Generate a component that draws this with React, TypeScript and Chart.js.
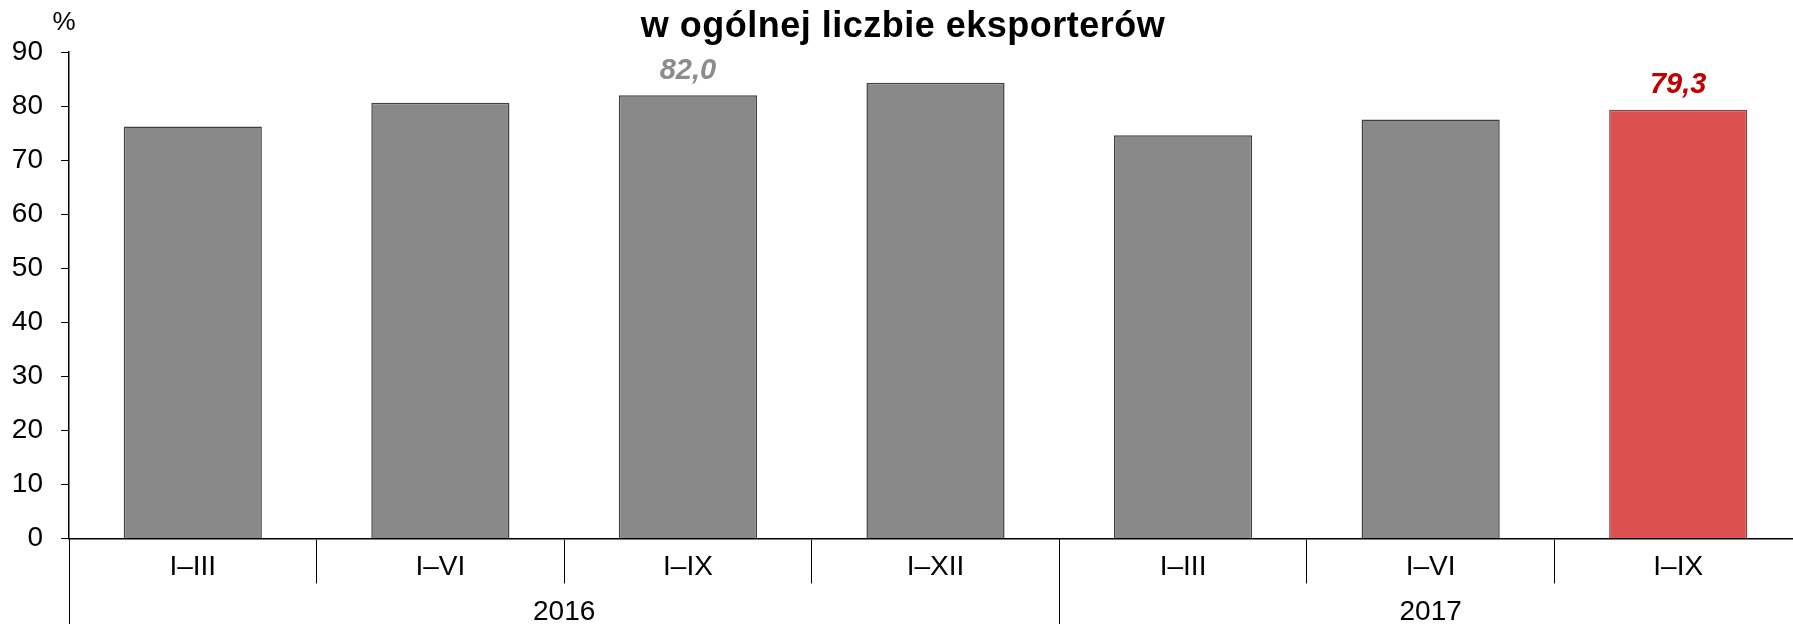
import React, { useEffect, useRef } from "react";
import { Chart, registerables } from "chart.js";

Chart.register(...registerables);

const categories = ["I–III", "I–VI", "I–IX", "I–XII", "I–III", "I–VI", "I–IX"];
const values = [76.2, 80.6, 82.0, 84.3, 74.6, 77.5, 79.3];
const years = ["2016", "2017"];
const yearSpans = [4, 3];
const labelledIndices = [2, 6];
const titleText = "w ogólnej liczbie eksporterów";
const unitLabel = "%";
const yMin = 0;
const yMax = 90;
const yStep = 10;

const FONT = '"Liberation Sans", Arial, sans-serif';
const GRAY = "#898989";
const GRAY_BORDER = "#404040";
const RED = "#dc5050";
const RED_BORDER = "#8a4545";
const CANVAS_W = 1802;
const CANVAS_H = 624;

const overlayPlugin = {
  id: "overlay",
  afterDraw(chart: any) {
    const ctx = chart.ctx;
    const x = chart.scales.x;
    const area = chart.chartArea;
    const n = categories.length;
    const cw = (x.right - x.left) / n;
    ctx.save();

    // title (second line visible)
    ctx.fillStyle = "#000";
    ctx.font = `bold 36px ${FONT}`;
    try { (ctx as any).letterSpacing = "0.5px"; } catch (e) {}
    ctx.textAlign = "center";
    ctx.textBaseline = "alphabetic";
    ctx.fillText(titleText, 903, 37);
    try { (ctx as any).letterSpacing = "0px"; } catch (e) {}

    // unit
    ctx.font = `26px ${FONT}`;
    ctx.textAlign = "center";
    ctx.fillText(unitLabel, 64, 29.5);

    // year groups
    ctx.font = `28px ${FONT}`;
    ctx.strokeStyle = "#000";
    ctx.lineWidth = 1;
    let start = 0;
    yearSpans.forEach((span, gi) => {
      const left = x.getPixelForValue(start) - cw / 2;
      const right = x.getPixelForValue(start + span - 1) + cw / 2;
      const lx = Math.round(left) + 0.5;
      ctx.beginPath();
      ctx.moveTo(lx, area.bottom);
      ctx.lineTo(lx, CANVAS_H);
      ctx.stroke();
      ctx.textAlign = "center";
      ctx.textBaseline = "alphabetic";
      ctx.fillText(years[gi], (left + right) / 2, 620);
      start += span;
    });

    // value labels
    const meta = chart.getDatasetMeta(0);
    ctx.font = `italic bold 29px ${FONT}`;
    ctx.textAlign = "center";
    ctx.textBaseline = "alphabetic";
    labelledIndices.forEach((i) => {
      const bar = meta.data[i];
      const isLast = i >= yearSpans[0];
      ctx.fillStyle = isLast ? "#c00000" : "#8c8c8c";
      ctx.fillText(values[i].toFixed(1).replace(".", ","), bar.x, bar.y - 16.5);
    });
    ctx.restore();
  },
};

export default function App() {
  const ref = useRef<HTMLCanvasElement | null>(null);
  useEffect(() => {
    if (!ref.current) return;
    const chart = new Chart(ref.current, {
      type: "bar",
      data: {
        labels: categories,
        datasets: [
          {
            data: values,
            backgroundColor: values.map((_, i) => (i === values.length - 1 ? RED : GRAY)),
            borderColor: values.map((_, i) => (i === values.length - 1 ? RED_BORDER : GRAY_BORDER)),
            borderWidth: 1.5,
            barPercentage: 0.558,
            categoryPercentage: 1,
          },
        ],
      },
      options: {
        responsive: false,
        animation: false,
        devicePixelRatio: 1,
        layout: { padding: { top: 52, left: 0, right: 0, bottom: 0 } },
        plugins: {
          legend: { display: false },
          title: { display: false },
          tooltip: { enabled: false },
        },
        scales: {
          x: {
            offset: true,
            grid: {
              offset: true,
              drawOnChartArea: false,
              drawTicks: true,
              tickLength: 45,
              color: "#000",
              lineWidth: 1,
            },
            border: { display: true, color: "#000", width: 1.5 },
            ticks: {
              color: "#000",
              font: { family: FONT, size: 28 },
              padding: -33,
              maxRotation: 0,
              autoSkip: false,
            },
            afterFit(scale: any) {
              scale.height = 85.5;
            },
          },
          y: {
            min: yMin,
            max: yMax,
            ticks: {
              stepSize: yStep,
              color: "#000",
              font: { family: FONT, size: 28 },
              padding: 18,
            },
            grid: {
              drawOnChartArea: false,
              drawTicks: true,
              tickLength: 8,
              color: "#000",
              lineWidth: 1,
            },
            border: { display: true, color: "#000", width: 1.5 },
            afterFit(scale: any) {
              scale.width = 69;
            },
          },
        },
      },
      plugins: [overlayPlugin],
    });
    return () => chart.destroy();
  }, []);

  return (
    <div
      style={{
        position: "fixed",
        left: 0,
        top: 0,
        width: 1793,
        height: CANVAS_H,
        overflow: "hidden",
        background: "#fff",
      }}
    >
      <canvas ref={ref} width={CANVAS_W} height={CANVAS_H} style={{ display: "block" }} />
    </div>
  );
}
